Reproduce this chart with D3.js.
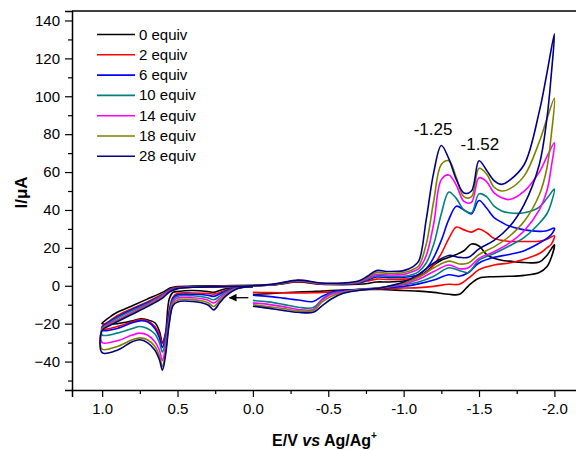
<!DOCTYPE html>
<html>
<head>
<meta charset="utf-8">
<script src="https://cdn.jsdelivr.net/npm/d3@7"></script>
<style>
  body { margin: 0; background: #fff; }
  svg { display: block; font-family: "Liberation Sans", Arial, Helvetica, sans-serif; }
</style>
</head>
<body>
<svg id="chart" width="576" height="450"></svg>
<script>
// legend labels and colours
const series = ["0 equiv", "2 equiv", "6 equiv", "10 equiv", "14 equiv", "18 equiv", "28 equiv"];
const colors = ["#000000", "#ff0000", "#0000ff", "#008080", "#ff00ff", "#808000", "#000080"];

// potential grids (V) for the three parts of each scan
// 1) start at 0 V, sweep to +1.0 V
const E_ox = [0.0, 0.1, 0.18, 0.22, 0.26, 0.3, 0.4, 0.5, 0.53, 0.555, 0.58, 0.6, 0.62, 0.65, 0.7, 0.75, 0.8, 0.9, 1.0];
// 2) +1.0 V down to -2.0 V
const E_fwd = [1.0, 0.95, 0.9, 0.8, 0.7, 0.6, 0.55, 0.5, 0.4, 0.2, 0.0, -0.15, -0.3, -0.45, -0.6, -0.7, -0.76, -0.82, -0.9, -1.0,
  -1.06, -1.1, -1.15, -1.2, -1.25, -1.3, -1.35, -1.4, -1.45, -1.5, -1.55, -1.6, -1.65, -1.7, -1.8, -1.9, -1.95, -2.0];
// 3) back from -2.0 V to 0 V
const E_back = [-1.98, -1.95, -1.9, -1.8, -1.7, -1.6, -1.5, -1.43, -1.37, -1.3, -1.2, -1.1, -1.0, -0.85, -0.7, -0.6, -0.52,
  -0.46, -0.4, -0.3, -0.2, -0.1, 0.0];

// currents (uA), one row per series
const I_ox = [
  [-0.5, -0.7, -1.6, -2.5, -3.5, -3, -2.5, -3, -3.5, -7, -25, -30, -24, -19.5, -18, -17.5, -18.5, -20, -20],
  [-0.5, -0.8, -2.4, -3.6, -4.4, -4, -3.8, -4, -6, -13, -26, -30.5, -26, -21.5, -18.5, -18, -19, -21.5, -23],
  [-0.5, -0.9, -2.7, -4.3, -5.6, -5, -4.5, -4.8, -6.5, -14, -27, -32.5, -27.5, -22.5, -19, -18.5, -19.5, -22.5, -23.5],
  [-0.5, -1, -3.3, -5.5, -7.4, -6.3, -5.3, -5.5, -7.5, -16, -29, -35, -30, -25.5, -22.5, -21.5, -22.5, -25, -26],
  [-0.5, -1.2, -4, -6.7, -9.1, -7.5, -6.3, -6.5, -8.5, -18, -32, -39.5, -34, -29.5, -26, -25, -26, -29, -30],
  [-0.5, -1.3, -4.8, -7.8, -10.9, -8.8, -7.3, -7.5, -9.5, -19, -35, -42.6, -37, -32, -28.5, -27.5, -28.5, -32, -33.5],
  [-0.5, -1.5, -5.5, -9, -12.7, -10, -8.3, -8.5, -10.5, -20, -37, -44.5, -39, -34, -30, -28.5, -29.5, -34, -35.3]
];
const I_fwd = [
  [-19.7, -16.5, -14, -10.5, -7, -3.5, -1.2, -0.4, -0.2, 0, 0.3, 0.6, 2, 0.8, 0.6, 0.8, 1.2, 2, 2, 2.5,
    3.5, 5, 7.5, 11, 13.5, 15, 16.5, 18.5, 22, 21, 16.5, 14.5, 13.5, 13, 12.3, 12.5, 16, 21.6],
  [-21.5, -18.5, -15.8, -12, -8.5, -4.5, -1.8, -0.8, -0.5, -0.3, 0, 0.6, 2.3, 0.9, 0.9, 1.4, 2.5, 3.5, 3.3, 3.5,
    4, 5, 7, 11, 17, 25, 31, 29.5, 28.3, 30, 28, 25, 24, 23.4, 23.4, 23.5, 24.5, 26.4],
  [-22, -19, -16.5, -12.5, -9, -4.8, -2, -1, -0.6, -0.4, 0, 0.7, 2.5, 1, 1, 1.6, 3, 4.6, 4.3, 4.5,
    5, 6, 9, 15, 24, 35, 42, 40, 38, 45, 41, 36, 33.5, 31.5, 29.5, 28.7, 29, 30.4],
  [-22.5, -19.5, -17, -13, -9.5, -5, -2.2, -1.2, -0.6, -0.4, 0, 0.7, 2.6, 1.1, 1.1, 1.8, 3.5, 5.3, 5, 5,
    6, 7.5, 12, 22, 38, 49.5, 46, 40, 38.5, 48.5, 47, 42, 39.5, 38.5, 38.5, 41.5, 46, 51],
  [-23, -20, -18, -14, -10, -5.5, -2.5, -1.3, -0.7, -0.4, 0, 0.8, 2.7, 1.2, 1.2, 2, 4, 6, 5.7, 6,
    7.5, 9, 16, 33, 56, 58.5, 53, 44.5, 44, 57, 55, 49, 46.5, 45.5, 50, 60, 68, 75.5],
  [-23, -20.5, -18.5, -14.5, -10.5, -6, -3, -1.5, -0.8, -0.5, 0, 0.8, 2.8, 1.3, 1.3, 2.2, 4.5, 7, 6.5, 7,
    8.5, 10.5, 22, 45, 64, 66, 57, 47, 47, 62, 59, 52, 50, 51, 58, 76, 88, 99],
  [-23.5, -21, -19, -15, -11, -6.5, -3, -1.5, -0.8, -0.5, 0, 1, 3, 1.5, 1.5, 2.5, 5, 8, 7.5, 8,
    10, 13, 35, 60, 74, 67, 56, 49, 50, 66, 61, 55.5, 53.5, 55.5, 64, 92, 112, 133]
];
const I_back = [
  [15, 10, 7, 5.5, 5, 4.8, 4, 0, -4.5, -4.5, -3.5, -2.8, -2.5, -2, -2, -2.2, -2.5, -2.8, -3, -3.3, -3.7, -4.2, -4.6],
  [22, 20, 17, 14, 12, 11, 8.5, 4, 0.8, 0.8, -0.3, -1, -1.2, -1.5, -2, -2.5, -3.2, -3.5, -3.7, -3.8, -3.7, -3.6, -3.5],
  [27, 25, 22.5, 18.5, 16.5, 15, 12, 7, 5, 5.8, 3, 1, -0.3, -1.2, -2, -2.5, -3.5, -5.5, -8.3, -7.5, -6.5, -5.6, -5],
  [44, 38, 33, 25.5, 21, 17, 13.5, 7, 8, 9.5, 5, 2, 0.5, -1, -2, -3, -4, -7, -11.5, -11.3, -9.8, -8.5, -7.7],
  [63, 50, 40, 29, 22.5, 18, 14.5, 9.5, 9, 11, 7.5, 3.5, 1, -1, -2.2, -3.2, -4.5, -7.5, -12.5, -12.5, -11, -9.8, -9],
  [80, 62, 48, 34, 26, 20.5, 16.5, 12, 11.5, 13, 9.5, 4.5, 1.5, -1, -2.3, -3.5, -5.5, -8.5, -13, -13.2, -12, -11, -10],
  [112, 88, 64, 43, 31, 24, 19.5, 15, 15, 16, 12, 6, 2, -1, -2.5, -4, -7, -10.5, -14, -14, -13, -11.8, -10.8]
];

// tick values
const xTicks = [1.0, 0.5, 0.0, -0.5, -1.0, -1.5, -2.0];
const xMinor = [0.75, 0.25, -0.25, -0.75, -1.25, -1.75];
const yTicks = [-40, -20, 0, 20, 40, 60, 80, 100, 120, 140];
const yMinor = [-50, -30, -10, 10, 30, 50, 70, 90, 110, 130];

// peak labels, placed in data units (text centre, baseline)
const peakLabels = [{ E: -1.195, I: 79.6, text: "-1.25" }, { E: -1.506, I: 71.7, text: "-1.52" }];

const svg = d3.select("#chart");
const pLeft = 72, pRight = 577, pTop = 11, pBottom = 390;

const x = d3.scaleLinear().domain([1.2, -2.15]).range([pLeft, pRight]);
const y = d3.scaleLinear().domain([-55, 145]).range([pBottom, pTop]);

// frame
svg.append("line").attr("x1", pLeft).attr("x2", pRight).attr("y1", pTop).attr("y2", pTop)
  .attr("stroke", "#000").attr("stroke-width", 1.5);

const fmt = d => d.toFixed(1);

const gx = svg.append("g").attr("transform", `translate(0,${pBottom})`)
  .call(d3.axisBottom(x).tickValues(xTicks).tickFormat(fmt).tickSize(7).tickPadding(6));
const gxm = svg.append("g").attr("transform", `translate(0,${pBottom})`)
  .call(d3.axisBottom(x).tickValues(xMinor).tickFormat("").tickSize(4));
const gy = svg.append("g").attr("transform", `translate(${pLeft},0)`)
  .call(d3.axisLeft(y).tickValues(yTicks).tickSize(7).tickPadding(5));
const gym = svg.append("g").attr("transform", `translate(${pLeft},0)`)
  .call(d3.axisLeft(y).tickValues(yMinor).tickFormat("").tickSize(4));

[gx, gxm, gy, gym].forEach(g => {
  g.selectAll(".domain").attr("stroke", "#000").attr("stroke-width", 1.5);
  g.selectAll(".tick line").attr("stroke", "#000").attr("stroke-width", 1.2);
  g.selectAll("text").attr("font-size", 15).attr("fill", "#000")
    .attr("font-family", "'Liberation Sans', Arial, sans-serif");
});
gxm.select(".domain").remove();
gym.select(".domain").remove();

// axis titles
const xl = svg.append("text").attr("x", (pLeft + pRight) / 2).attr("y", 446)
  .attr("text-anchor", "middle").attr("font-size", 16).attr("font-weight", "bold");
xl.append("tspan").text("E/V ");
xl.append("tspan").attr("font-style", "italic").text("vs");
xl.append("tspan").text(" Ag/Ag");
xl.append("tspan").attr("font-size", 10).attr("dy", -7).text("+");

svg.append("text").attr("transform", `translate(27,${(pTop + pBottom) / 2 - 8}) rotate(-90)`)
  .attr("text-anchor", "middle").attr("font-size", 17).attr("font-weight", "bold").text("I/\u03bcA");

// curves
const line = d3.line().x(d => x(d[0])).y(d => y(d[1])).curve(d3.curveCatmullRom.alpha(0.5));

series.forEach((name, i) => {
  const pts = []
    .concat(E_ox.map((e, k) => [e, I_ox[i][k]]))
    .concat(E_fwd.map((e, k) => [e, I_fwd[i][k]]))
    .concat(E_back.map((e, k) => [e, I_back[i][k]]));
  svg.append("path").datum(pts)
    .attr("fill", "none").attr("stroke", colors[i]).attr("stroke-width", 1.6)
    .attr("stroke-linejoin", "round").attr("d", line);
});

// legend
const legend = svg.append("g");
series.forEach((name, i) => {
  const ly = 34.5 + i * 20.3;
  legend.append("line").attr("x1", 97).attr("x2", 135).attr("y1", ly).attr("y2", ly)
    .attr("stroke", colors[i]).attr("stroke-width", 1.6);
  legend.append("text").attr("x", 139).attr("y", ly + 5).attr("font-size", 15).text(name);
});

// peak annotations
peakLabels.forEach(p => {
  svg.append("text").attr("x", x(p.E)).attr("y", y(p.I))
    .attr("text-anchor", "middle").attr("font-size", 17).text(p.text);
});

// scan direction arrow
svg.append("defs").append("marker").attr("id", "ah").attr("viewBox", "0 0 10 10")
  .attr("refX", 9).attr("refY", 5).attr("markerWidth", 7).attr("markerHeight", 6)
  .attr("orient", "auto").append("path").attr("d", "M0,0L10,5L0,10z").attr("fill", "#000");
svg.append("line").attr("x1", x(0.03)).attr("x2", x(0.155)).attr("y1", y(-6.3)).attr("y2", y(-6.3))
  .attr("stroke", "#000").attr("stroke-width", 1.3).attr("marker-end", "url(#ah)");
</script>
</body>
</html>
